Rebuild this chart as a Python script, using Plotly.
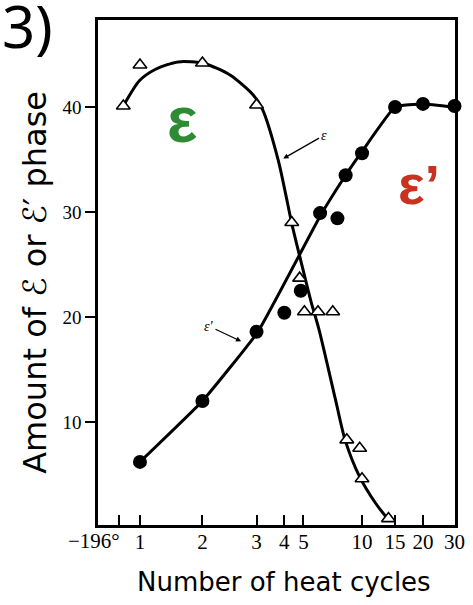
import numpy as np
import plotly.graph_objects as go

# ---------------- data ----------------
# x values are numbers of heat cycles; 0 stands for the "-196°" (as-quenched) state
TICK_CYCLES = [0, 1, 2, 3, 4, 5, 10, 15, 20, 30]
TICK_LABELS = ["−196°", "1", "2", "3", "4", "5", "10", "15", "20", "30"]
Y_TICKS = [10, 20, 30, 40]

# epsilon phase, measured points (open triangles)
EPS_X = [0.2, 1, 2, 3, 4.39, 4.8, 5.08, 6.24, 7.5, 8.7, 9.8, 10, 14.0]
EPS_Y = [40.1, 44.0, 44.2, 40.2, 29.0, 23.7, 20.5, 20.5, 20.5, 8.3, 7.5, 4.6, 0.8]

# epsilon' phase, measured points (filled circles)
EPSP_X = [1, 2, 3, 4, 4.86, 6.42, 7.9, 8.6, 10, 15, 20, 30]
EPSP_Y = [6.2, 12.0, 18.6, 20.4, 22.5, 29.9, 29.4, 33.5, 35.6, 40.0, 40.3, 40.1]

# drawn (fitted) curves
EPS_CURVE_X = [0.2, 0.97, 1.25, 1.61, 2.03, 2.51, 2.93, 3.21, 3.78, 4.14, 4.39, 4.87,
               5.64, 6.33, 7.74, 8.55, 9.79, 12.06, 14.1]
EPS_CURVE_Y = [40.1, 42.5, 43.6, 44.3, 44.15, 43.05, 41.2, 39.8, 34.95, 31.1, 28.9, 25.3,
               21.5, 18.8, 12.1, 8.3, 4.8, 2.26, 0.6]

EPSP_CURVE_X = [1, 2, 3.05, 6.42, 8.6, 9.9, 15, 20, 30]
EPSP_CURVE_Y = [6.2, 12.0, 18.6, 29.6, 33.5, 35.6, 40.0, 40.3, 40.0]

# ---------------- irregular (hand drawn) x scale ----------------
# position of each tick along the axis (axis units, the axis spans 0..367.5)
TICK_POS = [21.8, 43.2, 107.5, 163.2, 191.8, 211.5, 271.8, 305.8, 334.5, 367.0]
X_RANGE = [0, 367.5]
Y_RANGE = [0.19, 48.29]


def xs(c):
    return np.interp(np.asarray(c, dtype=float), TICK_CYCLES, TICK_POS)


W, H = 473, 605
ML, MR, MT, MB = 98, 8, 20, 80
PW, PH = W - ML - MR, H - MT - MB


def px(x):
    return (x - ML) / PW


def py(y):
    return (H - MB - y) / PH


fig = go.Figure()

fig.add_trace(go.Scatter(
    x=xs(EPS_CURVE_X), y=EPS_CURVE_Y, mode="lines",
    line=dict(color="black", width=3, shape="spline", smoothing=0.7),
    hoverinfo="skip", showlegend=False))
fig.add_trace(go.Scatter(
    x=xs(EPSP_CURVE_X), y=EPSP_CURVE_Y, mode="lines",
    line=dict(color="black", width=3, shape="spline", smoothing=0.35),
    hoverinfo="skip", showlegend=False))
fig.add_trace(go.Scatter(
    x=xs(EPS_X), y=EPS_Y, mode="markers", name="ε",
    marker=dict(symbol="triangle-up", size=12, color="white",
                line=dict(color="black", width=1.6)),
    cliponaxis=False, showlegend=False))
fig.add_trace(go.Scatter(
    x=xs(EPSP_X), y=EPSP_Y, mode="markers", name="ε'",
    marker=dict(symbol="circle", size=14, color="black"),
    cliponaxis=False, showlegend=False))

tick_text = [""] + TICK_LABELS[1:]

fig.update_xaxes(
    range=X_RANGE, tickmode="array", tickvals=list(TICK_POS), ticktext=tick_text,
    ticks="inside", ticklen=10, tickwidth=2, tickcolor="black",
    showline=True, linecolor="black", linewidth=2.5, mirror=True,
    showgrid=False, zeroline=False, ticklabelstandoff=-4,
    tickfont=dict(family="Liberation Serif", size=21, color="black"))
fig.update_yaxes(
    range=Y_RANGE, tickmode="array", tickvals=Y_TICKS,
    ticks="outside", ticklen=10, tickwidth=2, tickcolor="black",
    showline=True, linecolor="black", linewidth=2.5, mirror=True,
    showgrid=False, zeroline=False,
    tickfont=dict(family="Liberation Serif", size=19, color="black"))

ann = []
# -196° label (right-aligned to its tick)
ann.append(dict(x=px(123), y=py(541), xref="paper", yref="paper", text=TICK_LABELS[0],
                showarrow=False, xanchor="right", yanchor="middle",
                font=dict(family="Liberation Serif", size=21, color="black")))
# axis titles
ann.append(dict(x=px(289), y=py(582), xref="paper", yref="paper",
                text="Number of heat cycles", showarrow=False,
                xanchor="center", yanchor="middle",
                font=dict(family="DejaVu Sans", size=26, color="black")))
ann.append(dict(x=px(33), y=py(282), xref="paper", yref="paper",
                text="Amount of ℰ or ℰ′ phase", showarrow=False, textangle=-90,
                xanchor="center", yanchor="middle",
                font=dict(family="DejaVu Sans", size=32, color="black")))
# panel label
ann.append(dict(x=px(-3), y=py(25), xref="paper", yref="paper", text="3)",
                showarrow=False, xanchor="left", yanchor="middle",
                font=dict(family="Noto Sans", size=58, color="black")))
# coloured phase labels
ann.append(dict(x=px(184), y=py(120), xref="paper", yref="paper", text="<b>ε</b>",
                showarrow=False, xanchor="center", yanchor="middle",
                font=dict(family="Liberation Sans", size=64, color="#2f8a35")))
ann.append(dict(x=px(428), y=py(185), xref="paper", yref="paper", text="<b>ε’</b>",
                showarrow=False, xanchor="center", yanchor="middle",
                font=dict(family="Liberation Sans", size=56, color="#c8321e")))
# small curve labels with arrows
ann.append(dict(x=xs(3.9), y=35.0, xref="x", yref="y", text="<i>ε</i>",
                showarrow=True, arrowhead=2, arrowsize=0.8, arrowwidth=1.3,
                arrowcolor="black", ax=42, ay=-24, standoff=2,
                font=dict(family="Liberation Serif", size=14, color="black")))
ann.append(dict(x=xs(2.75), y=17.6, xref="x", yref="y", text="<i>ε′</i>",
                showarrow=True, arrowhead=2, arrowsize=0.8, arrowwidth=1.3,
                arrowcolor="black", ax=-34, ay=-16, standoff=2,
                font=dict(family="Liberation Serif", size=14, color="black")))

fig.update_layout(
    width=W, height=H, margin=dict(l=ML, r=MR, t=MT, b=MB),
    paper_bgcolor="white", plot_bgcolor="white",
    annotations=ann, showlegend=False)

fig.write_html("out.html", config={"displayModeBar": False},
               post_script="document.body.style.margin='0';document.body.style.padding='0';")
